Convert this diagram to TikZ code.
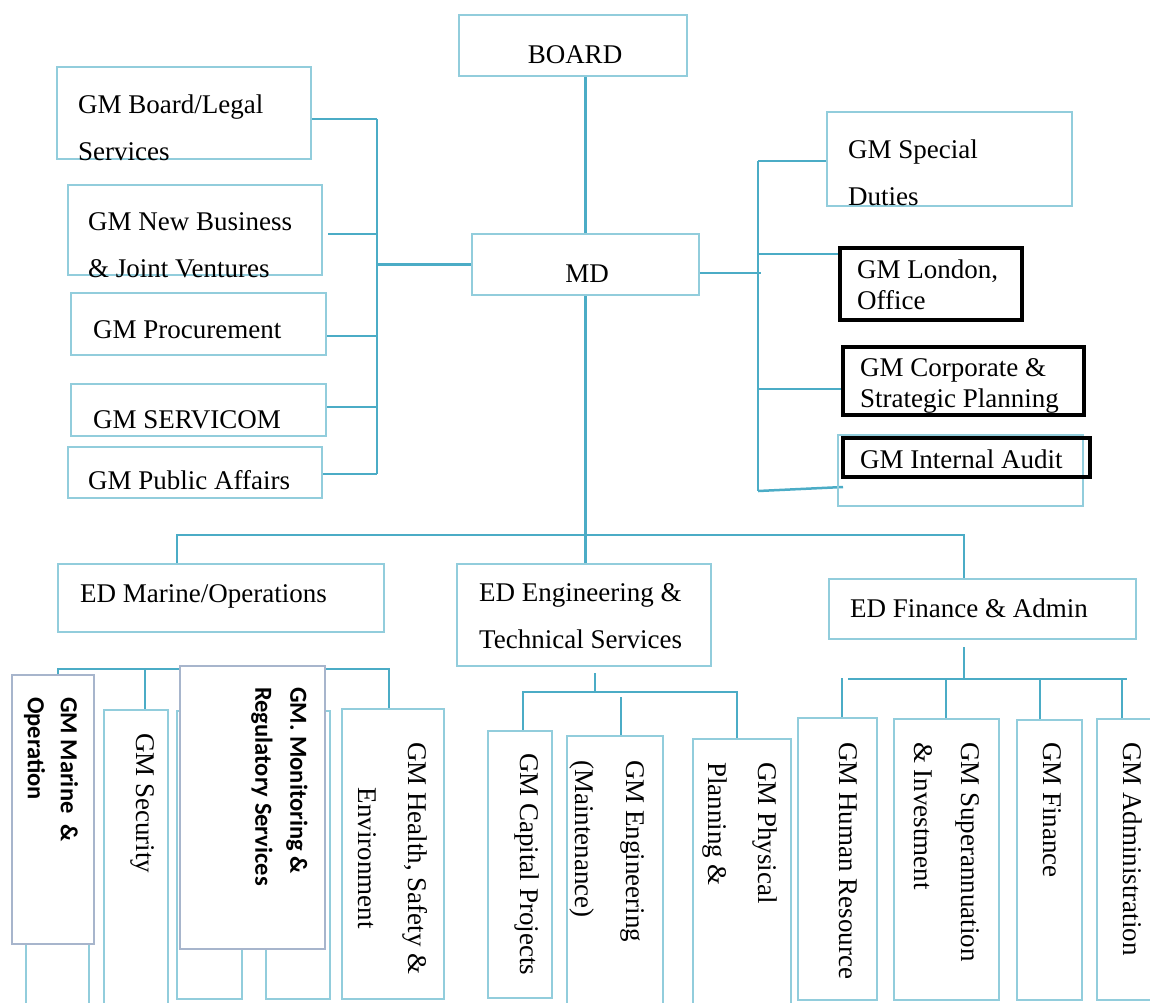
\documentclass[tikz,border=0pt]{standalone}
\usepackage{fontspec}
\setmainfont{Liberation Serif}
\newfontfamily\carlito{Carlito}
\usetikzlibrary{calc, backgrounds}
\usepackage{xcolor}
\definecolor{BoxBlue}{HTML}{92CDDC}
\definecolor{LinkBlue}{HTML}{4BACC6}
\definecolor{BoxGrey}{HTML}{A7B5CC}
\tikzset{
    % Box styles - plain rectangles
    orgbox/.style={
        rectangle,
        draw=BoxBlue,
        line width=2.5pt,
        inner sep=0pt
    },
    blackbox/.style={
        rectangle,
        draw=black,
        line width=3.5pt,
        inner sep=0pt
    },
    greybox/.style={
        rectangle,
        draw=BoxGrey,
        fill=white,
        line width=2pt,
        inner sep=0pt
    },
    % Text styles
    txt/.style={
        inner sep=0pt,
        align=left,
        font=\fontsize{27}{47}\selectfont
    },
    tighttxt/.style={
        txt,
        font=\fontsize{27}{31}\selectfont
    },
    vtxt/.style={
        txt,
        rotate=-90,
        anchor=west
    },
    vbold/.style={
        vtxt,
        font=\carlito\bfseries\fontsize{24.5}{33}\selectfont
    },
    % Connector style
    link/.style={
        draw=LinkBlue,
        line width=2.5pt
    }
}

\begin{document}
\begin{tikzpicture}[x=1pt, y=-1pt]
    \useasboundingbox (0,0) rectangle (1150,1002);

    % top level
    \node[orgbox, minimum width=228, minimum height=61] (board) at (573,45.5) {};
    \node[orgbox, minimum width=227, minimum height=61] (md) at (585.5,264.5) {};

    % left column
    \node[orgbox, minimum width=254, minimum height=92] (legal) at (184,113) {};
    \node[orgbox, minimum width=254, minimum height=90] (newbiz) at (195,230) {};
    \node[orgbox, minimum width=255, minimum height=62] (procure) at (198.5,324) {};
    \node[orgbox, minimum width=255, minimum height=52] (servicom) at (198.5,410) {};
    \node[orgbox, minimum width=254, minimum height=51] (public) at (195,472.5) {};

    % right column
    \node[orgbox, minimum width=245, minimum height=94] (special) at (949.5,159) {};
    \node[blackbox, minimum width=182, minimum height=72] (london) at (931,284) {};
    \node[blackbox, minimum width=241, minimum height=68] (corporate) at (963.5,381) {};
    \node[orgbox, minimum width=245, minimum height=71] (intblue) at (960.5,470.5) {};
    \node[blackbox, minimum width=247, minimum height=39] (intaudit) at (966.5,457.5) {};

    % executive directors
    \node[orgbox, minimum width=326, minimum height=68] (edmarine) at (221,598) {};
    \node[orgbox, minimum width=254, minimum height=102] (edeng) at (584,615) {};
    \node[orgbox, minimum width=307, minimum height=60] (edfin) at (982.5,609) {};

    % marine/operations units
    \node[orgbox, minimum width=63, minimum height=296] (hida) at (57.5,858) {};
    \node[orgbox, minimum width=64, minimum height=296] (security) at (136,858) {};
    \node[orgbox, minimum width=65, minimum height=288] (hidb) at (209.5,855) {};
    \node[orgbox, minimum width=64, minimum height=288] (hidc) at (298,855) {};
    \node[orgbox, minimum width=102, minimum height=290] (health) at (393,854) {};
    \node[greybox, minimum width=82, minimum height=269] (marine) at (53,809.5) {};
    \node[greybox, minimum width=145, minimum height=283] (monitor) at (252.5,807.5) {};

    % engineering units
    \node[orgbox, minimum width=64, minimum height=267] (capital) at (520,864.5) {};
    \node[orgbox, minimum width=96, minimum height=270] (engmaint) at (615,871) {};
    \node[orgbox, minimum width=98, minimum height=267] (physical) at (742,872.5) {};

    % finance units
    \node[orgbox, minimum width=79, minimum height=282] (hr) at (837.5,859) {};
    \node[orgbox, minimum width=105, minimum height=281] (super) at (946.5,859.5) {};
    \node[orgbox, minimum width=65, minimum height=280] (finance) at (1049.5,860) {};
    \node[orgbox, minimum width=65, minimum height=281] (admin) at (1129.5,859.5) {};

    % bus points
    \coordinate (lb1) at (377,119);
    \coordinate (lb2) at (377,234);
    \coordinate (lb3) at (377,336);
    \coordinate (lb4) at (377,407);
    \coordinate (lb5) at (377,474);
    \coordinate (rb1) at (758,161);
    \coordinate (rb2) at (758,254);
    \coordinate (rb3) at (758,389);
    \coordinate (rb4) at (758,491);
    \coordinate (rbm) at (761,273);
    \coordinate (iaend) at (843,487);
    \coordinate (mb1) at (177,535);
    \coordinate (mb3) at (964,535);
    \coordinate (sb1) at (58,669);
    \coordinate (sb2) at (145,669);
    \coordinate (sb3) at (389,669);
    \coordinate (eb0) at (595,692);
    \coordinate (eb1) at (523,692);
    \coordinate (eb2) at (621,697);
    \coordinate (eb3) at (737,692);
    \coordinate (fb0) at (964,679);
    \coordinate (fb1) at (848,679);
    \coordinate (fb2) at (946,679);
    \coordinate (fb3) at (1040,679);
    \coordinate (fb4) at (1122,679);
    \coordinate (fbe) at (1127,679);
    \coordinate (fd1) at (842,678);

    \begin{scope}[on background layer]
        \draw[link] (board.south -| md.north) -- (md.north);

        % left side
        \draw[link] (md.west) -- (md.west -| lb1);
        \draw[link] (lb1) -- (lb5);
        \draw[link] (legal.east |- lb1) -- (lb1);
        \draw[link] ($(newbiz.east |- lb2)+(5,0)$) -- (lb2);
        \draw[link] (procure.east |- lb3) -- (lb3);
        \draw[link] (servicom.east |- lb4) -- (lb4);
        \draw[link] (public.east |- lb5) -- (lb5);

        % right side
        \draw[link] (md.east |- rbm) -- (rbm);
        \draw[link] (rb1) -- (rb4);
        \draw[link] (rb1) -- (rb1 -| special.west);
        \draw[link] (rb2) -- (rb2 -| london.west);
        \draw[link] (rb3) -- (rb3 -| corporate.west);
        \draw[link] (rb4) -- (iaend);

        % executive directors
        \draw[link] (md.south) -- (md.south |- edeng.north);
        \draw[link] (mb1 |- edmarine.north) -- (mb1) -- (mb3) -- (mb3 |- edfin.north);

        % marine branch
        \draw[link] (sb1 |- marine.north) -- (sb1) -- (sb3) -- (sb3 |- health.north);
        \draw[link] (sb2) -- (sb2 |- security.north);

        % engineering branch
        \draw[link] ($(edeng.south -| eb0)+(0,6)$) -- (eb0);
        \draw[link] (eb1 |- capital.north) -- (eb1) -- (eb3) -- (eb3 |- physical.north);
        \draw[link] (eb2) -- (eb2 |- engmaint.north);

        % finance branch
        \draw[link] ($(edfin.south -| fb0)+(0,7)$) -- (fb0);
        \draw[link] (fb1) -- (fbe);
        \draw[link] (fd1) -- (fd1 |- hr.north);
        \draw[link] (fb2) -- (fb2 |- super.north);
        \draw[link] (fb3) -- (fb3 |- finance.north);
        \draw[link] (fb4) -- (fb4 |- admin.north);
    \end{scope}

    % texts (base = last line)
    \node[txt, anchor=base] (boardtxt) at (575,63) {BOARD};
    \node[txt, anchor=base] (mdtxt) at (587,282) {MD};
    \node[txt, anchor=base west] (legaltxt) at (78,160) {GM Board/Legal\\Services};
    \node[txt, anchor=base west] (newbiztxt) at (88,277) {GM New Business\\\& Joint Ventures};
    \node[txt, anchor=base west] (procuretxt) at (93,338) {GM Procurement};
    \node[txt, anchor=base west] (servicomtxt) at (93,428) {GM SERVICOM};
    \node[txt, anchor=base west] (publictxt) at (88,489) {GM Public Affairs};
    \node[txt, anchor=base west] (specialtxt) at (848,205) {GM Special\\Duties};
    \node[tighttxt, anchor=base west] (londontxt) at (857,309) {GM London,\\Office};
    \node[tighttxt, anchor=base west] (corporatetxt) at (860,407) {GM Corporate \&\\Strategic Planning};
    \node[txt, anchor=base west] (intaudittxt) at (860,468) {GM Internal Audit};
    \node[txt, anchor=base west] (edmarinetxt) at (80,602) {ED Marine/Operations};
    \node[txt, anchor=base west] (edengtxt) at (479,648) {ED Engineering \&\\Technical Services};
    \node[txt, anchor=base west] (edfintxt) at (850,617) {ED Finance \& Admin};

    \node[vbold] (marinetxt) at (51,697) {GM Marine\ \ \&\\Operation};
    \node[vbold, font=\carlito\bfseries\fontsize{24.5}{35}\selectfont] (monitortxt) at (279.5,687) {GM. Monitoring \&\\Regulatory Services};
    \node[vtxt] (securitytxt) at (143,733) {GM Security};
    \node[vtxt, align=center, font=\fontsize{27}{50}\selectfont] (healthtxt) at (393,742) {GM Health, Safety \&\\Environment};
    \node[vtxt] (capitaltxt) at (527,753) {GM Capital Projects};
    \node[vtxt, font=\fontsize{27}{51}\selectfont] (engmainttxt) at (607.5,760) {GM Engineering\\(Maintenance)};
    \node[vtxt, font=\fontsize{27}{50}\selectfont] (physicaltxt) at (740,762) {GM Physical\\Planning \&};
    \node[vtxt] (hrtxt) at (848,742) {GM Human Resource};
    \node[vtxt] (supertxt) at (946.5,742) {GM Superannuation\\\& Investment};
    \node[vtxt] (financetxt) at (1052,742) {GM Finance};
    \node[vtxt] (admintxt) at (1133,742) {GM Administration};
\end{tikzpicture}
\end{document}
